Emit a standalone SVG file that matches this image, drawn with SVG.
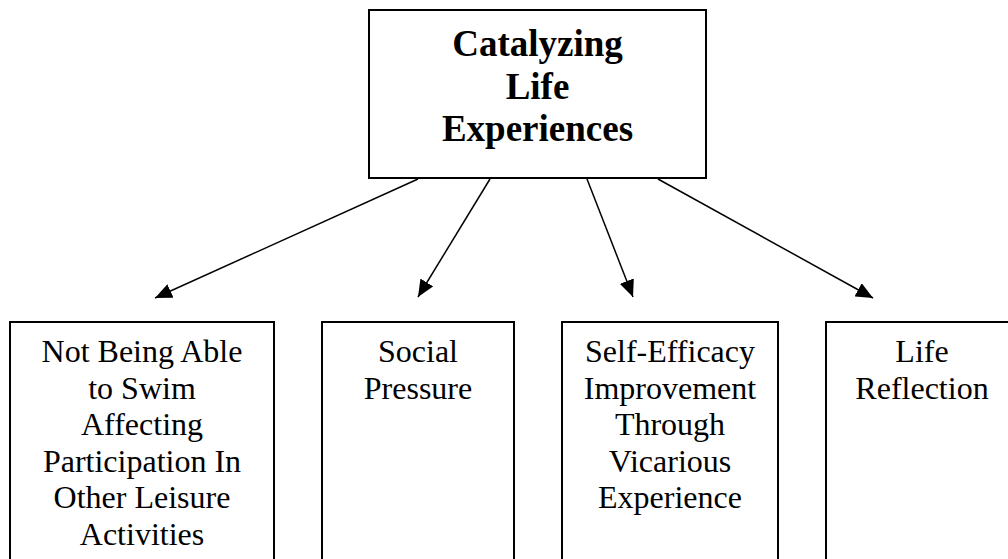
<svg xmlns="http://www.w3.org/2000/svg" width="1008" height="559" viewBox="0 0 1008 559">
<style>
.box{fill:#fff;stroke:#000;stroke-width:2}
.top{font-family:"Liberation Serif","Times New Roman",serif;font-weight:bold;font-size:37px;text-anchor:middle;fill:#000}
.lbl{font-family:"Liberation Serif","Times New Roman",serif;font-size:32px;text-anchor:middle;fill:#000}
.conn{stroke:#000;stroke-width:1.5;fill:none;marker-end:url(#ah)}
</style>
<defs>
<marker id="ah" markerUnits="userSpaceOnUse" markerWidth="18" markerHeight="15" refX="17" refY="7.5" orient="auto">
<path d="M0,0 L17,7.5 L0,15 z" fill="#000"/>
</marker>
</defs>
<rect width="1008" height="559" fill="#fff"/>
<g id="root">
<rect class="box" x="369" y="10" width="337" height="168"/>
<text class="top" x="537.5" y="56">Catalyzing</text>
<text class="top" x="537.5" y="98.5">Life</text>
<text class="top" x="537.5" y="141">Experiences</text>
</g>
<g id="n1">
<rect class="box" x="10" y="322" width="264" height="260"/>
<text class="lbl" x="142" y="362">Not Being Able</text>
<text class="lbl" x="142" y="398.6">to Swim</text>
<text class="lbl" x="142" y="435.2">Affecting</text>
<text class="lbl" x="142" y="471.8">Participation In</text>
<text class="lbl" x="142" y="508.4">Other Leisure</text>
<text class="lbl" x="142" y="545">Activities</text>
</g>
<g id="n2">
<rect class="box" x="322" y="322" width="192" height="260"/>
<text class="lbl" x="418" y="362">Social</text>
<text class="lbl" x="418" y="398.6">Pressure</text>
</g>
<g id="n3">
<rect class="box" x="562" y="322" width="216" height="260"/>
<text class="lbl" x="670" y="362">Self-Efficacy</text>
<text class="lbl" x="670" y="398.6">Improvement</text>
<text class="lbl" x="670" y="435.2">Through</text>
<text class="lbl" x="670" y="471.8">Vicarious</text>
<text class="lbl" x="670" y="508.4">Experience</text>
</g>
<g id="n4">
<rect class="box" x="826" y="322" width="192" height="260"/>
<text class="lbl" x="922" y="362">Life</text>
<text class="lbl" x="922" y="398.6">Reflection</text>
</g>
<g id="connectors">
<line class="conn" x1="418" y1="179" x2="155" y2="298"/>
<line class="conn" x1="490" y1="179" x2="418" y2="297"/>
<line class="conn" x1="587" y1="179" x2="633" y2="297"/>
<line class="conn" x1="658" y1="179" x2="873" y2="298"/>
</g>
</svg>
